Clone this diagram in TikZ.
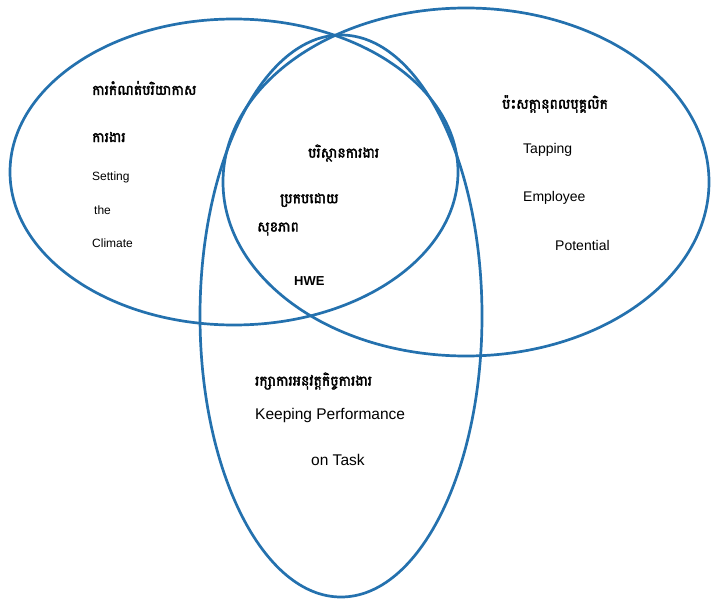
\documentclass[tikz,border=0pt]{standalone}
\usepackage{fontspec}
\setmainfont{Liberation Sans}
\newfontfamily\khmer[Script=Khmer, AutoFakeBold=2.5]{Battambang}
\usetikzlibrary{positioning}
\definecolor{C0}{HTML}{2471AE}
\newcommand{\kmtext}[1]{{\khmer\bfseries\fontsize{14}{16}\selectfont #1}}

\begin{document}
\begin{tikzpicture}[x=1pt, y=-1pt, every node/.style={inner sep=0pt, anchor=west}]
    \useasboundingbox (0,0) rectangle (711,599);
        \draw [line width = 2.7pt, C0] (234,172) ellipse [x radius=224pt, y radius=153pt];
        \draw [line width = 2.7pt, C0] (466,182) ellipse [x radius=243pt, y radius=174pt];
        \draw [line width = 2.7pt, C0] (341,316) ellipse [x radius=141pt, y radius=281pt];
    %   left: setting the climate
        \node (kmclimate) at (92,88) {\kmtext{ការកំណត់បរិយាកាស}};
        \node (kmwork) at (92,137) {\kmtext{ការងារ}};
        \node (setting) at (92,177) {\fontsize{12}{14}\selectfont Setting};
        \node (the) at (94,210) {\fontsize{12}{14}\selectfont the};
        \node (climate) at (92,243) {\fontsize{12}{14}\selectfont Climate};
    %   middle: HWE
        \node (kmenv) at (308,153) {\kmtext{បរិស្ថានការងារ}};
        \node (kmwith) at (280,200) {\kmtext{ប្រកបដោយ}};
        \node (kmhealth) at (257,229) {\kmtext{សុខភាព}};
        \node (hwe) at (294,281) {\fontsize{13}{15}\selectfont\bfseries HWE};
    %   right: tapping employee potential
        \node (kmpotential) at (502,104) {\kmtext{ប៉ះសក្ដានុពលបុគ្គលិក}};
        \node (tapping) at (523,150) {\fontsize{14}{16}\selectfont Tapping};
        \node (employee) at (523,198) {\fontsize{14}{16}\selectfont Employee};
        \node (potential) at (555,245) {\fontsize{14}{16}\selectfont Potential};
    %   bottom: keeping performance on task
        \node (kmtask) at (255,381) {\kmtext{រក្សាការអនុវត្តកិច្ចការងារ}};
        \node (keeping) at (255,415) {\fontsize{15.5}{18}\selectfont Keeping Performance};
        \node (ontask) at (311,460) {\fontsize{15.5}{18}\selectfont on Task};
    \end{tikzpicture}
\end{document}
